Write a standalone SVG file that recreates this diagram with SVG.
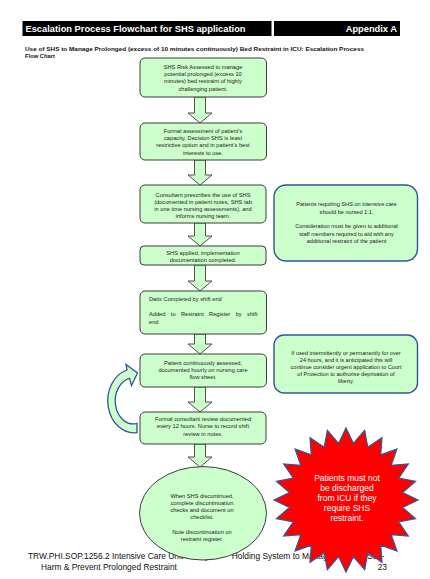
<svg xmlns="http://www.w3.org/2000/svg" width="430" height="579" viewBox="0 0 430 579">
<style>
.bg{fill:#ffffff}
.bar{fill:#000000}
.ttl{font-family:"Liberation Sans",Arial,sans-serif;font-weight:bold;font-size:9.3px;fill:#ffffff}
.sub{font-family:"Liberation Sans",Arial,sans-serif;font-weight:bold;font-size:5.8px;fill:#111111}
.box{fill:#ccffcc;stroke:#3c3c3c;stroke-width:1}
.side{fill:#ccffcc;stroke:#2f5597;stroke-width:1.4}
.t{font-family:"Liberation Sans",Arial,sans-serif;font-size:5.7px;fill:#1a1a1a;text-anchor:middle}
.tl{font-family:"Liberation Sans",Arial,sans-serif;font-size:5.7px;fill:#1a1a1a}
.ts{font-family:"Liberation Sans",Arial,sans-serif;font-size:5.6px;fill:#1a1a1a;text-anchor:middle}
.arr{fill:#ccffcc;stroke:#3c3c3c;stroke-width:0.9}
.carr{fill:#ccffcc;stroke:#2f5597;stroke-width:1.3}
.burst{fill:#ff0000;stroke:#2f5597;stroke-width:1.2}
.bt{font-family:"Liberation Sans",Arial,sans-serif;font-size:8.5px;fill:#ffffff;text-anchor:middle}
.ft{font-family:"Liberation Sans",Arial,sans-serif;font-size:8.4px;fill:#111111}
</style>
<rect class="bg" x="0" y="0" width="430" height="579"/>

<g id="header">
<rect class="bar" x="22.5" y="21" width="249" height="15"/>
<rect class="bar" x="274" y="21" width="126" height="15"/>
<text class="ttl" x="25.5" y="32.3" textLength="220" lengthAdjust="spacingAndGlyphs">Escalation Process Flowchart for SHS application</text>
<text class="ttl" x="397" y="32.3" text-anchor="end">Appendix A</text>
<text class="sub" x="25" y="51" textLength="339" lengthAdjust="spacingAndGlyphs">Use of SHS to Manage Prolonged (excess of 10 minutes continuously) Bed Restraint in ICU: Escalation Process</text>
<text class="sub" x="25" y="57.5">Flow Chart</text>
</g>

<g id="footer">
<text class="ft" x="28" y="559">TRW.PHI.SOP.1256.2 Intensive Care Unit Safety</text>
<text class="ft" x="231.7" y="559">Holding System to Manage Patients Self-</text>
<text class="ft" x="41" y="570">Harm &amp; Prevent Prolonged Restraint</text>
<text class="ft" x="387" y="570" text-anchor="end">23</text>
</g>

<g id="connectors">
<polygon class="arr" points="194.5,97 205.5,97 205.5,113 212,113 200,123 188,113 194.5,113"/>
<polygon class="arr" points="194.5,160 205.5,160 205.5,175 212,175 200,185 188,175 194.5,175"/>
<polygon class="arr" points="194.5,223 205.5,223 205.5,236 212,236 200,246 188,236 194.5,236"/>
<polygon class="arr" points="194.5,265 205.5,265 205.5,281 212,281 200,291 188,281 194.5,281"/>
<polygon class="arr" points="194.5,334 205.5,334 205.5,344 212,344 200,354 188,344 194.5,344"/>
<polygon class="arr" points="194.5,387 205.5,387 205.5,402 212,402 200,412 188,402 194.5,402"/>
<polygon class="arr" points="194.5,444 205.5,444 205.5,457 212,457 200,467 188,457 194.5,457"/>
<path id="loop-arrow" class="carr" d="M137,432.6 A26.5,32 0 0 1 127,370 L126,364.5 L137.5,373 L131.5,385.5 L129.5,378.4 A18,23 0 1 0 137,423.4 Z"/>
</g>

<g id="n1">
<rect class="box" x="140" y="58" width="126.5" height="39" rx="5"/>
<text class="t" x="203" y="69">SHS Risk Assessed to manage</text>
<text class="t" x="203" y="76.2">potential prolonged (excess 10</text>
<text class="t" x="203" y="83.4">minutes) bed restraint of highly</text>
<text class="t" x="203" y="90.6">challenging patient.</text>
</g>

<g id="n2">
<rect class="box" x="140" y="123" width="126.5" height="37" rx="5"/>
<text class="t" x="203" y="133">Formal assessment of patient's</text>
<text class="t" x="203" y="140.2">capacity. Decision SHS is least</text>
<text class="t" x="203" y="147.4">restrictive option and in patient's best</text>
<text class="t" x="203" y="154.6">interests to use.</text>
</g>

<g id="n3">
<rect class="box" x="140" y="185" width="126" height="38" rx="5"/>
<text class="t" x="203" y="197">Consultant prescribes the use of SHS</text>
<text class="t" x="203" y="204">(documented in patient notes, SHS tab</text>
<text class="t" x="203" y="211">in one time nursing assessments), and</text>
<text class="t" x="203" y="218">informs nursing team.</text>
</g>

<g id="n4">
<rect class="box" x="140" y="246" width="126" height="19" rx="4"/>
<text class="t" x="203" y="255">SHS applied, implementation</text>
<text class="t" x="203" y="262">documentation completed.</text>
</g>

<g id="n5">
<rect class="box" x="140" y="291" width="126.5" height="43" rx="5"/>
<text class="tl" x="149" y="301">Datix Completed by shift end</text>
<text class="tl" x="149" y="316" word-spacing="3.8">Added to Restraint Register by shift</text>
<text class="tl" x="149" y="323.5">end</text>
</g>

<g id="n6">
<rect class="box" x="140" y="354" width="126.5" height="33" rx="5"/>
<text class="t" x="203" y="364.7">Patient continuously assessed,</text>
<text class="t" x="203" y="372">documented hourly on nursing care</text>
<text class="t" x="203" y="379.3">flow sheet.</text>
</g>

<g id="n7">
<rect class="box" x="140" y="412" width="126" height="32" rx="5"/>
<text class="t" x="203" y="420.5">Formal consultant review documented</text>
<text class="t" x="203" y="428.2">every 12 hours. Nurse to record shift</text>
<text class="t" x="203" y="435.9">review in notes.</text>
</g>

<g id="n8">
<ellipse class="box" cx="203" cy="513.3" rx="63.5" ry="46.7"/>
<text class="t" x="202" y="497.5">When SHS discontinued,</text>
<text class="t" x="202" y="504.7">complete discontinuation</text>
<text class="t" x="202" y="511.9">checks and document on</text>
<text class="t" x="202" y="519.1">checklist.</text>
<text class="t" x="202" y="533.5">Note discontinuation on</text>
<text class="t" x="202" y="540.7">restraint register.</text>
</g>

<g id="note1">
<rect class="side" x="274" y="185" width="143.5" height="76" rx="12"/>
<text class="ts" x="346.5" y="206.3">Patients requiring SHS on intensive care</text>
<text class="ts" x="346.5" y="214">should be nursed 1:1.</text>
<text class="ts" x="346.5" y="228">Consideration must be given to additional</text>
<text class="ts" x="346.5" y="235.5">staff members required to aid with any</text>
<text class="ts" x="346.5" y="243">additional restraint of the patient</text>
</g>

<g id="note2">
<rect class="side" x="274" y="335" width="143.5" height="58" rx="10"/>
<text class="ts" x="346" y="355.3">If used intermittently or permanently for over</text>
<text class="ts" x="346" y="362.3">24 hours, and it is anticipated this will</text>
<text class="ts" x="346" y="369.3">continue consider urgent application to Court</text>
<text class="ts" x="346" y="376.3">of Protection to authorise deprivation of</text>
<text class="ts" x="346" y="383.3">liberty.</text>
</g>

<g id="warning">
<polygon class="burst" transform="translate(346,500)" points="72,0 56.51,7.44 69.54,18.63 52.66,21.81 62.35,36 45.22,34.7 50.91,50.91 34.7,45.22 36,62.35 21.81,52.66 18.63,69.54 7.44,56.51 0,72 -7.44,56.51 -18.63,69.54 -21.81,52.66 -36,62.35 -34.7,45.22 -50.91,50.91 -45.22,34.7 -62.35,36 -52.66,21.81 -69.54,18.63 -56.51,7.44 -72,0 -56.51,-7.44 -69.54,-18.63 -52.66,-21.81 -62.35,-36 -45.22,-34.7 -50.91,-50.91 -34.7,-45.22 -36,-62.35 -21.81,-52.66 -18.63,-69.54 -7.44,-56.51 0,-72 7.44,-56.51 18.63,-69.54 21.81,-52.66 36,-62.35 34.7,-45.22 50.91,-50.91 45.22,-34.7 62.35,-36 52.66,-21.81 69.54,-18.63 56.51,-7.44"/>
<text class="bt" x="347" y="480.5">Patients must not</text>
<text class="bt" x="347" y="490.5">be discharged</text>
<text class="bt" x="347" y="500.5">from ICU if they</text>
<text class="bt" x="347" y="510.5">require SHS</text>
<text class="bt" x="347" y="520.5">restraint.</text>
</g>
</svg>
